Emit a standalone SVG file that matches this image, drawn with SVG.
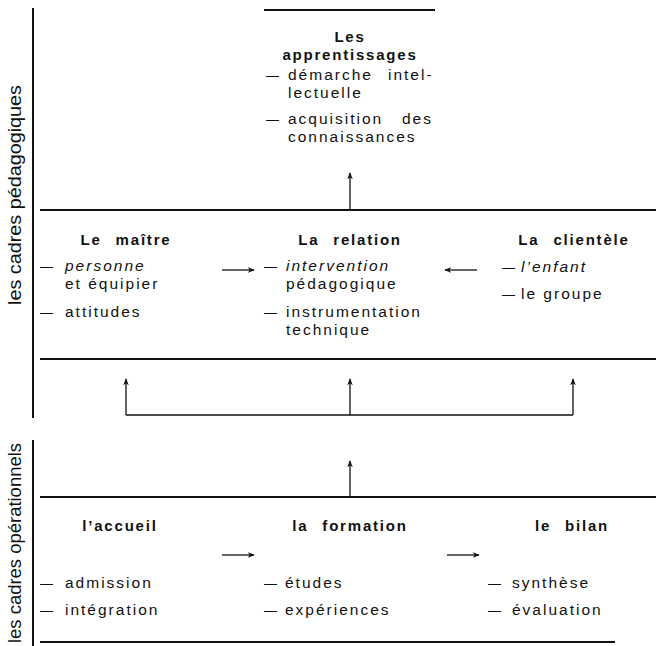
<svg xmlns="http://www.w3.org/2000/svg" width="656" height="646" viewBox="0 0 656 646">
<defs>
<marker id="ah" viewBox="0 0 10 10" refX="9" refY="5" markerWidth="7" markerHeight="7" markerUnits="userSpaceOnUse" orient="auto">
<path d="M0,1 L10,5 L0,9 L3,5 Z" fill="#111"/>
</marker>
<style>
.t{font-family:"Liberation Sans",Arial,sans-serif;font-size:15.5px;letter-spacing:2px;fill:#111}
.d{font-size:13px;letter-spacing:0}
.b{font-family:"Liberation Sans",Arial,sans-serif;font-size:15px;font-weight:bold;letter-spacing:1.8px;word-spacing:8px;fill:#111;text-anchor:middle}
.i{font-style:italic}
.rot{font-family:"Liberation Sans Narrow","Liberation Sans",Arial,sans-serif;font-size:18px;fill:#111;text-anchor:middle}
.rule{stroke:#111;stroke-width:2;fill:none}
.conn{stroke:#111;stroke-width:1.3;fill:none}
.arr{stroke:#111;stroke-width:1.3;fill:none;marker-end:url(#ah)}
</style>
</defs>
<rect width="656" height="646" fill="#fff"/>

<g id="side-labels">
<line class="rule" x1="33" y1="8" x2="33" y2="418"/>
<line class="rule" x1="33" y1="440" x2="33" y2="646"/>
<text class="rot" transform="translate(21,195) rotate(-90)" textLength="220" lengthAdjust="spacingAndGlyphs">les cadres pédagogiques</text>
<text class="rot" transform="translate(21,543) rotate(-90)" textLength="200" lengthAdjust="spacingAndGlyphs">les cadres opérationnels</text>
</g>

<g id="rules">
<line class="rule" x1="264" y1="10" x2="435" y2="10"/>
<line class="rule" x1="40" y1="210" x2="656" y2="210"/>
<line class="rule" x1="40" y1="359" x2="656" y2="359"/>
<line class="rule" x1="40" y1="497" x2="656" y2="497"/>
<line class="rule" x1="40" y1="642" x2="615" y2="642"/>
</g>

<g id="apprentissages">
<text class="b" x="350" y="42">Les</text>
<text class="b" x="350" y="60">apprentissages</text>
<text class="t" y="80"><tspan class="d" x="266">—</tspan><tspan x="288">démarche</tspan><tspan x="388">intel-</tspan></text>
<text class="t" x="288" y="98">lectuelle</text>
<text class="t" y="124"><tspan class="d" x="266">—</tspan><tspan x="288">acquisition</tspan><tspan x="402">des</tspan></text>
<text class="t" x="288" y="142">connaissances</text>
</g>

<g id="maitre">
<text class="b" x="126" y="245">Le maître</text>
<text class="t" y="271"><tspan class="d" x="40">—</tspan><tspan class="i" x="65">personne</tspan></text>
<text class="t" x="65" y="289">et équipier</text>
<text class="t" y="317"><tspan class="d" x="40">—</tspan><tspan x="65">attitudes</tspan></text>
</g>

<g id="relation">
<text class="b" x="350" y="245">La relation</text>
<text class="t" y="271"><tspan class="d" x="264">—</tspan><tspan class="i" x="286">intervention</tspan></text>
<text class="t" x="286" y="289">pédagogique</text>
<text class="t" y="317"><tspan class="d" x="264">—</tspan><tspan x="286">instrumentation</tspan></text>
<text class="t" x="286" y="335">technique</text>
</g>

<g id="clientele">
<text class="b" x="574" y="245">La clientèle</text>
<text class="t" y="272"><tspan class="d" x="502">—</tspan><tspan class="i" x="521">l’enfant</tspan></text>
<text class="t" y="299"><tspan class="d" x="502">—</tspan><tspan x="521">le groupe</tspan></text>
</g>

<g id="accueil">
<text class="b" x="120" y="531">l’accueil</text>
<text class="t" y="588"><tspan class="d" x="40">—</tspan><tspan x="65">admission</tspan></text>
<text class="t" y="615"><tspan class="d" x="40">—</tspan><tspan x="65">intégration</tspan></text>
</g>

<g id="formation">
<text class="b" x="350" y="531">la formation</text>
<text class="t" y="588"><tspan class="d" x="264">—</tspan><tspan x="285">études</tspan></text>
<text class="t" y="615"><tspan class="d" x="264">—</tspan><tspan x="285">expériences</tspan></text>
</g>

<g id="bilan">
<text class="b" x="572" y="531">le bilan</text>
<text class="t" y="588"><tspan class="d" x="488">—</tspan><tspan x="512">synthèse</tspan></text>
<text class="t" y="615"><tspan class="d" x="488">—</tspan><tspan x="512">évaluation</tspan></text>
</g>

<g id="connectors">
<line class="arr" x1="350" y1="209" x2="350" y2="173"/>
<line class="arr" x1="222" y1="270" x2="254" y2="270"/>
<line class="arr" x1="477" y1="270" x2="445" y2="270"/>
<line class="conn" x1="126" y1="415" x2="573" y2="415"/>
<line class="arr" x1="126" y1="415" x2="126" y2="379"/>
<line class="arr" x1="350" y1="415" x2="350" y2="379"/>
<line class="arr" x1="573" y1="415" x2="573" y2="379"/>
<line class="arr" x1="350" y1="496" x2="350" y2="461"/>
<line class="arr" x1="222" y1="555" x2="254" y2="555"/>
<line class="arr" x1="447" y1="555" x2="479" y2="555"/>
</g>
</svg>
